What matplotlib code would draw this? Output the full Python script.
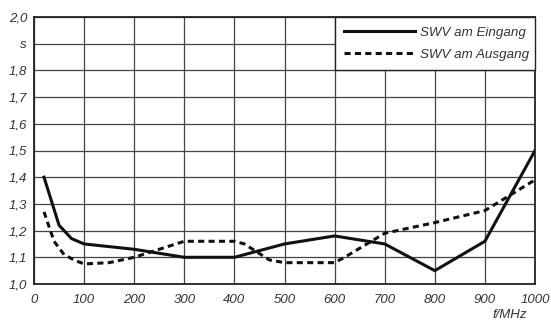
import matplotlib

matplotlib.use("Agg")
import matplotlib.pyplot as plt

# SWV (VSWR) over frequency
f_in = [20, 50, 75, 100, 200, 300, 400, 500, 600, 700, 800, 900, 1000]
swr_in = [1.40, 1.22, 1.17, 1.15, 1.13, 1.10, 1.10, 1.15, 1.18, 1.15, 1.05, 1.16, 1.50]

f_out = [20, 40, 60, 80, 100, 150, 200, 250, 300, 400, 420, 470, 500, 600, 620,
         700, 800, 900, 1000]
swr_out = [1.27, 1.16, 1.11, 1.09, 1.075, 1.08, 1.10, 1.13, 1.16, 1.16, 1.15,
           1.09, 1.08, 1.08, 1.10, 1.19, 1.23, 1.275, 1.39]

x_ticks = [0, 100, 200, 300, 400, 500, 600, 700, 800, 900, 1000]
y_ticks = [1.0, 1.1, 1.2, 1.3, 1.4, 1.5, 1.6, 1.7, 1.8, 1.9, 2.0]
y_labels = ["1,0", "1,1", "1,2", "1,3", "1,4", "1,5", "1,6", "1,7", "1,8", "s", "2,0"]

plt.rcParams["font.family"] = ["Liberation Sans", "DejaVu Sans"]
plt.rcParams["font.style"] = "italic"
TXT = "#333333"

fig = plt.figure(figsize=(5.51, 3.25), dpi=100)
ax = fig.add_axes([34 / 551, 1 - 284 / 325, 501 / 551, 267 / 325])

ax.plot(f_in, swr_in, color="#111111", lw=2.2, label="SWV am Eingang",
        solid_joinstyle="miter")
ax.plot(f_out, swr_out, color="#111111", lw=2.2, ls=(0, (2.0, 1.4)),
        label="SWV am Ausgang")

ax.set_xlim(0, 1000)
ax.set_ylim(1.0, 2.0)
ax.set_xticks(x_ticks)
ax.set_xticklabels([str(v) for v in x_ticks])
ax.set_yticks(y_ticks)
ax.set_yticklabels(y_labels)
ax.tick_params(length=0, labelsize=9.5, labelcolor=TXT)
ax.tick_params(axis="x", pad=7)
ax.tick_params(axis="y", pad=5)
ax.grid(True, color="#444444", lw=0.9)
ax.set_axisbelow(True)
for s in ax.spines.values():
    s.set_linewidth(1.3)
    s.set_color("#222222")

leg = ax.legend(loc="upper left", bbox_to_anchor=(0.6, 0.8, 0.4, 0.2),
                mode="expand", borderaxespad=0, fancybox=False, framealpha=1,
                edgecolor="#222222", fontsize=9.6, handlelength=5.3,
                handletextpad=0.4, labelspacing=0.75, borderpad=0.7)
leg.get_frame().set_linewidth(1.0)
for t in leg.get_texts():
    t.set_color(TXT)

fig.text(510 / 551, 1 - 315 / 325, "f/MHz", ha="center", va="center",
         fontsize=9.5, color=TXT)

fig.savefig("out.png", dpi=100)
